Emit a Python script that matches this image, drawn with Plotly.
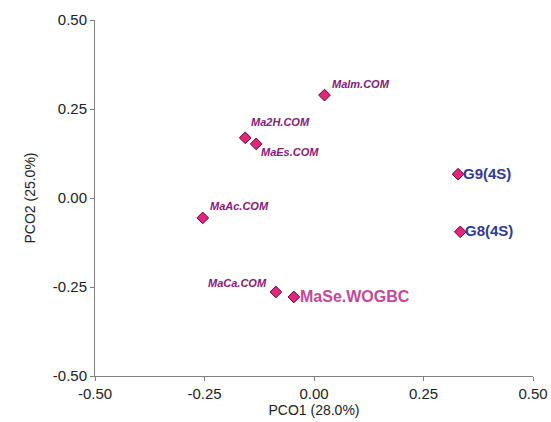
import plotly.graph_objects as go

names = ["Malm.COM", "Ma2H.COM", "MaEs.COM", "MaAc.COM", "MaCa.COM", "MaSe.WOGBC", "G9(4S)", "G8(4S)"]
pco1 = [0.024, -0.157, -0.132, -0.254, -0.087, -0.046, 0.329, 0.334]
pco2 = [0.289, 0.169, 0.152, -0.056, -0.264, -0.278, 0.067, -0.095]
tick_vals = [-0.50, -0.25, 0.00, 0.25, 0.50]
tick_text = ["-0.50", "-0.25", "0.00", "0.25", "0.50"]

# label styling: (xshift, yshift, xanchor, yanchor, color, size, bold-italic)
label_style = {
    "Malm.COM":   (5, 3, "left", "bottom", "#85207A", 11, True),
    "Ma2H.COM":   (4, 8, "left", "bottom", "#85207A", 11, True),
    "MaEs.COM":   (3, 0, "left", "top", "#85207A", 11, True),
    "MaAc.COM":   (5, 4, "left", "bottom", "#85207A", 11, True),
    "MaCa.COM":   (-7, 1, "right", "bottom", "#85207A", 11, True),
    "MaSe.WOGBC": (4, 0, "left", "middle", "#C4489B", 16, False),
    "G9(4S)":     (3, 1, "left", "middle", "#2E3A94", 15, False),
    "G8(4S)":     (3, 1, "left", "middle", "#2E3A94", 15, False),
}

fig = go.Figure()
fig.add_trace(go.Scatter(
    x=pco1, y=pco2, mode="markers",
    marker=dict(symbol="diamond", size=9, color="#E2267D",
                line=dict(color="#5A0A2E", width=1)),
    hovertext=names, showlegend=False,
))

for n, xv, yv in zip(names, pco1, pco2):
    xs, ys, xa, ya, col, sz, bi = label_style[n]
    txt = f"<b><i>{n}</i></b>" if bi else f"<b>{n}</b>"
    fig.add_annotation(x=xv, y=yv, text=txt, showarrow=False,
                       xshift=xs, yshift=ys, xanchor=xa, yanchor=ya,
                       font=dict(family="Liberation Sans, Arial", size=sz, color=col))

axis_common = dict(
    range=[-0.5, 0.5], tickvals=tick_vals, ticktext=tick_text,
    showgrid=False, zeroline=False, showline=True, linecolor="#808080", linewidth=1,
    ticks="outside", ticklen=4, tickcolor="#808080", automargin=False,
    tickfont=dict(family="Liberation Sans, Arial", size=15, color="#222222"),
)

fig.update_layout(
    width=551, height=422,
    margin=dict(l=95, r=18, t=20, b=46),
    paper_bgcolor="white", plot_bgcolor="white",
    xaxis=dict(**axis_common, title=dict(text="PCO1 (28.0%)", standoff=3,
               font=dict(family="Liberation Sans, Arial", size=14, color="#222222"))),
    yaxis=dict(**axis_common, title=dict(text="PCO2 (25.0%)", standoff=13,
               font=dict(family="Liberation Sans, Arial", size=14, color="#222222"))),
)

fig.write_html("out.html", config={"displayModeBar": False},
               post_script="document.body.style.margin='0';document.body.style.overflow='hidden';")
